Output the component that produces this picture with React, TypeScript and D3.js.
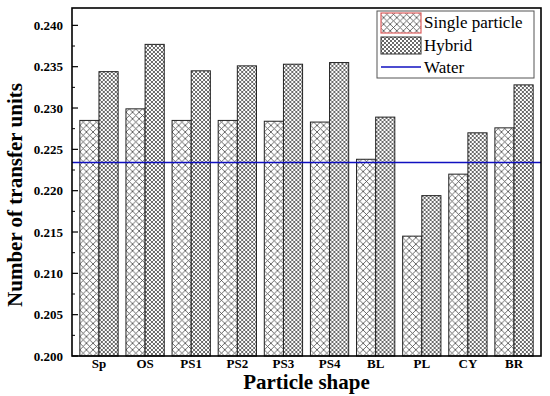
import React from 'react';
import * as d3 from 'd3';

const shapes = ['Sp', 'OS', 'PS1', 'PS2', 'PS3', 'PS4', 'BL', 'PL', 'CY', 'BR'];
const singleParticle = [0.2285, 0.2299, 0.2285, 0.2285, 0.2284, 0.2283, 0.2238, 0.2145, 0.222, 0.2276];
const hybrid = [0.2344, 0.2377, 0.2345, 0.2351, 0.2353, 0.2355, 0.2289, 0.2194, 0.227, 0.2328];
const water = 0.2234;
const yTicks = [0.2, 0.205, 0.21, 0.215, 0.22, 0.225, 0.23, 0.235, 0.24];
const yMinorTicks = [0.2025, 0.2075, 0.2125, 0.2175, 0.2225, 0.2275, 0.2325, 0.2375];

const width = 550;
const height = 396;
const margin = { top: 8, right: 9, bottom: 40, left: 72 };

const serif = { fontFamily: "'Liberation Serif', 'Times New Roman', Times, serif" };

const App = () => {
  const x = d3
    .scaleBand()
    .domain(shapes)
    .range([margin.left, width - margin.right])
    .paddingInner(0.17)
    .paddingOuter(0.17);

  const inner = d3.scaleBand().domain(['single', 'hybrid']).range([0, x.bandwidth()]);

  const y = d3
    .scaleLinear()
    .domain([0.2, 0.2421])
    .range([height - margin.bottom, margin.top]);

  const fmt = d3.format('.3f');
  const bottom = height - margin.bottom;

  const rows = shapes.map((s, i) => ({ shape: s, single: singleParticle[i], hybrid: hybrid[i] }));

  return (
    <svg width={width} height={height} style={{ position: 'absolute', left: 0, top: 0, background: '#fff' }}>
      <defs>
        <pattern id="wide" patternUnits="userSpaceOnUse" width={6.6} height={6.6}>
          <rect width={6.6} height={6.6} fill="#fff" />
          <path d="M-1,-1 L7.6,7.6 M7.6,-1 L-1,7.6" stroke="#444" strokeWidth={0.8} />
        </pattern>
        <pattern id="fine" patternUnits="userSpaceOnUse" width={4} height={4}>
          <rect width={4} height={4} fill="#fff" />
          <path d="M-1,-1 L5,5 M5,-1 L-1,5" stroke="#444" strokeWidth={0.8} />
        </pattern>
      </defs>

      {/* bars */}
      {rows.map(d => (
        <g key={d.shape} transform={`translate(${x(d.shape)},0)`}>
          <rect
            x={inner('single')}
            y={y(d.single)}
            width={inner.bandwidth()}
            height={bottom - y(d.single)}
            fill="url(#wide)"
            stroke="#222"
            strokeWidth={1}
          />
          <rect
            x={inner('hybrid')}
            y={y(d.hybrid)}
            width={inner.bandwidth()}
            height={bottom - y(d.hybrid)}
            fill="url(#fine)"
            stroke="#222"
            strokeWidth={1}
          />
        </g>
      ))}

      {/* water reference line */}
      <line x1={margin.left} x2={width - margin.right} y1={y(water)} y2={y(water)} stroke="#1010c0" strokeWidth={1.6} />

      {/* frame */}
      <rect
        x={margin.left}
        y={margin.top}
        width={width - margin.left - margin.right}
        height={bottom - margin.top}
        fill="none"
        stroke="#000"
        strokeWidth={1.6}
      />

      {/* y axis ticks, pointing inward */}
      {yTicks.map(t => (
        <g key={t}>
          <line x1={margin.left} x2={margin.left + 6} y1={y(t)} y2={y(t)} stroke="#000" strokeWidth={1.2} />
          <text
            x={margin.left - 9}
            y={y(t)}
            dy="0.35em"
            textAnchor="end"
            style={serif}
            fontWeight="bold"
            fontSize={13}
          >
            {fmt(t)}
          </text>
        </g>
      ))}
      {yMinorTicks.map(t => (
        <line key={t} x1={margin.left} x2={margin.left + 3} y1={y(t)} y2={y(t)} stroke="#000" strokeWidth={1} />
      ))}

      {/* x tick labels */}
      {shapes.map(s => (
        <text
          key={s}
          x={x(s) + x.bandwidth() / 2}
          y={bottom + 12}
          textAnchor="middle"
          style={serif}
          fontWeight="bold"
          fontSize={13}
        >
          {s}
        </text>
      ))}

      {/* axis titles */}
      <text
        x={(margin.left + width - margin.right) / 2}
        y={389}
        textAnchor="middle"
        style={serif}
        fontWeight="bold"
        fontSize={21}
      >
        Particle shape
      </text>
      <text
        transform="translate(22,195) rotate(-90)"
        textAnchor="middle"
        style={serif}
        fontWeight="bold"
        fontSize={21}
      >
        Number of transfer units
      </text>

      {/* legend */}
      <g transform="translate(377,11)">
        <rect width={157} height={67} fill="#fff" stroke="#555" strokeWidth={1} />
        <rect x={4} y={2} width={40} height={20} fill="url(#wide)" stroke="#e06060" strokeWidth={1.2} />
        <rect x={4} y={26} width={40} height={17} fill="url(#fine)" stroke="#333" strokeWidth={1} />
        <line x1={4} x2={44} y1={56} y2={56} stroke="#1010c0" strokeWidth={1.4} />
        <text x={47} y={17} style={serif} fontSize={17}>Single particle</text>
        <text x={47} y={40} style={serif} fontSize={17}>Hybrid</text>
        <text x={47} y={62} style={serif} fontSize={17}>Water</text>
      </g>
    </svg>
  );
};

export default App;
